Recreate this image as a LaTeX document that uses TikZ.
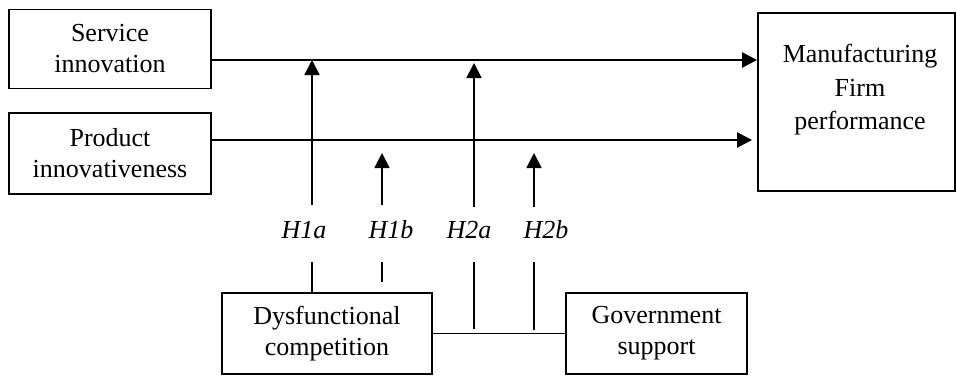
\documentclass[tikz,border=0pt]{standalone}
\usepackage{fontspec}
\setmainfont{Liberation Serif}
\usetikzlibrary{arrows.meta}

\begin{document}
\begin{tikzpicture}[x=1pt,y=-1pt,
  box/.style={draw,line width=1.9pt,inner sep=0pt,align=center,
    font=\fontsize{26}{31}\selectfont},
  hyp/.style={inner sep=0pt,font=\fontsize{26}{31}\selectfont\itshape},
  main/.style={line width=2.6pt,-{Triangle[length=15pt,width=15pt]}},
  mod/.style={line width=1.8pt,-{Triangle[length=15pt,width=15pt]}},
  seg/.style={line width=1.8pt}]
\useasboundingbox (0,0) rectangle (957,376);
% boxes
\node [box,minimum width=202pt,minimum height=79pt] (service) at (110,49) {Service\\innovation};
\node [box,minimum width=202pt,minimum height=81pt] (product) at (110,153.5) {Product\\innovativeness};
\node [box,minimum width=197pt,minimum height=178pt] (mfg) at (856.5,102) {};
\node [inner sep=0pt,align=center,font=\fontsize{26}{33.5}\selectfont] (mfgtext) at (860,90) {Manufacturing\\Firm\\performance};
\node [box,minimum width=210pt,minimum height=81pt] (dys) at (327,333.5) {Dysfunctional\\competition};
\node [box,minimum width=181pt,minimum height=81pt] (gov) at (656.5,333.5) {Government\\support};
% hypothesis labels
\node [hyp] (h1a) at (304,230) {H1a};
\node [hyp] (h1b) at (391,230) {H1b};
\node [hyp] (h2a) at (469,230) {H2a};
\node [hyp] (h2b) at (546,230) {H2b};
% main paths
\coordinate (stop) at ([yshift=-11pt]service.east);
\coordinate (ptop) at ([yshift=13.5pt]product.east);
\draw [main] (stop) -- (stop -| mfg.west);
\draw [main] (ptop) -- ([xshift=-5pt]ptop -| mfg.west);
% moderators
\coordinate (h1a-up) at (312,205);
\coordinate (h1a-dn) at (312,262);
\coordinate (h1b-up) at (382,205);
\coordinate (h1b-dn) at (382,262);
\coordinate (h1b-end) at (382,282);
\coordinate (h2a-up) at (474,207);
\coordinate (h2a-dn) at (474,262);
\coordinate (h2b-up) at (534,207);
\coordinate (h2b-dn) at (534,262);
\draw [mod] (h1a-up) -- (h1a-up |- stop);
\draw [mod] (h1b-up) -- (382,153);
\draw [mod] (h2a-up) -- (474,63);
\draw [mod] (h2b-up) -- (534,153);
\draw [seg] (h1a-dn) -- (h1a-dn |- dys.north);
\draw [seg] (h1b-dn) -- (h1b-end);
\draw [seg] (h2a-dn) -- (474,329);
\draw [seg] (h2b-dn) -- (534,330);
\draw [seg] (dys.east) -- (gov.west);
\end{tikzpicture}
\end{document}
